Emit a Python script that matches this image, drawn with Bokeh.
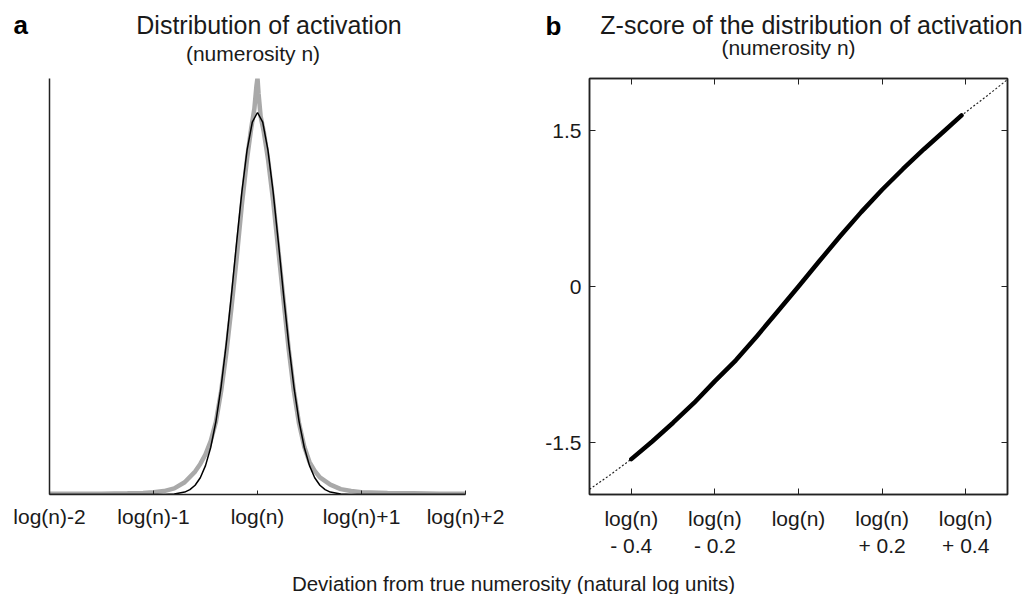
from bokeh.plotting import figure
from bokeh.models import Range1d, FixedTicker, LinearAxis, Label
from bokeh.layouts import column, row
from bokeh.embed import file_html
from bokeh.resources import INLINE

FONT = "Liberation Sans"

# ---------------- panel a : distribution of activation ----------------
dev_ticks = [-2, -1, 0, 1, 2]
dev_tick_labels = ["log(n)-2", "log(n)-1", "log(n)", "log(n)+1", "log(n)+2"]

# measured activation (grey), deviation in natural log units, height rel. to fit peak
act_x = [-2.0, -1.75, -1.5, -1.25, -1.1, -1.0, -0.9, -0.8, -0.7, -0.6, -0.55, -0.5,
         -0.45, -0.4, -0.35, -0.3, -0.25, -0.2, -0.15, -0.1, -0.06, -0.03, -0.01,
         0.0, 0.01, 0.03, 0.06, 0.1, 0.15, 0.2, 0.25, 0.3, 0.35, 0.4, 0.45, 0.5,
         0.55, 0.6, 0.7, 0.8, 0.9, 1.0, 1.25, 1.5, 1.75, 2.0]
act_y = [0.002, 0.002, 0.002, 0.003, 0.004, 0.006, 0.009, 0.016, 0.032, 0.06, 0.08, 0.105,
         0.14, 0.19, 0.27, 0.37, 0.49, 0.62, 0.76, 0.88, 0.96, 1.01, 1.07,
         1.09, 1.05, 0.99, 0.95, 0.88, 0.77, 0.64, 0.51, 0.38, 0.27, 0.185, 0.125, 0.085,
         0.062, 0.045, 0.026, 0.014, 0.009, 0.006, 0.004, 0.003, 0.002, 0.002]

# gaussian fit (black)
fit_x = [-2.0, -1.0, -0.9, -0.8, -0.7, -0.65, -0.6, -0.55, -0.5, -0.45, -0.4, -0.35,
         -0.3, -0.25, -0.2, -0.15, -0.1, -0.05, 0.0, 0.05, 0.1, 0.15, 0.2, 0.25, 0.3,
         0.35, 0.4, 0.45, 0.5, 0.55, 0.6, 0.65, 0.7, 0.8, 0.9, 1.0, 2.0]
fit_y = [0.0, 0.0, 0.0002, 0.0013, 0.0063, 0.0127, 0.0243, 0.0439, 0.0756, 0.123, 0.191, 0.282,
         0.395, 0.524, 0.662, 0.793, 0.902, 0.975, 1.0, 0.975, 0.902, 0.793, 0.662, 0.524, 0.395,
         0.282, 0.191, 0.123, 0.0756, 0.0439, 0.0243, 0.0127, 0.0063, 0.0013, 0.0002, 0.0, 0.0]

# ---------------- panel b : z-score ----------------
z_ticks_x = [-0.4, -0.2, 0, 0.2, 0.4]
z_tick_x_labels = ["log(n)\n- 0.4", "log(n)\n- 0.2", "log(n)\n ", "log(n)\n+ 0.2", "log(n)\n+ 0.4"]
z_ticks_y = [-1.5, 0, 1.5]
z_tick_y_labels = ["-1.5", "0", "1.5"]

z_x = [-0.5, -0.45, -0.4, -0.35, -0.3, -0.25, -0.2, -0.15, -0.1, -0.05, 0.0,
       0.05, 0.1, 0.15, 0.2, 0.25, 0.3, 0.35, 0.39, 0.45, 0.5]
z_val = [-1.95, -1.81, -1.66, -1.49, -1.31, -1.12, -0.91, -0.71, -0.48, -0.24, 0.0,
         0.245, 0.485, 0.715, 0.93, 1.13, 1.32, 1.50, 1.645, 1.83, 1.99]
z_data_lo, z_data_hi = -0.4, 0.39   # extent of the measured (thick) part

TXT = "#1a1a1a"
AX = "#222222"

# ---------- header (panel letters and titles) ----------
t = figure(width=1026, height=70, x_range=Range1d(0, 1026), y_range=Range1d(0, 70),
           title=None, output_backend="svg", toolbar_location=None, min_border=0)
t.axis.visible = False
t.grid.visible = False
t.outline_line_color = None
t.border_fill_color = "white"
for x, y, txt, size, bold in [
        (13, 46, "a", "26px", True),
        (268.5, 46, "Distribution of activation", "25px", False),
        (252.5, 16.9, "(numerosity n)", "21px", False),
        (545, 44.4, "b", "26px", True),
        (811, 46, "Z-score of the distribution of activation", "25px", False),
        (788, 22.9, "(numerosity n)", "21px", False)]:
    t.add_layout(Label(x=x, y=y, text=txt, text_font=FONT, text_font_size=size,
                       text_font_style="bold" if bold else "normal",
                       text_color="black" if bold else TXT,
                       text_align="left" if bold else "center",
                       text_baseline="alphabetic"))

# ---------- figure a ----------
p1 = figure(width=528, height=496, x_range=Range1d(-2, 2), y_range=Range1d(0, 1.089),
            title=None, output_backend="svg", toolbar_location=None,
            min_border_left=49, min_border_right=63, min_border_top=8, min_border_bottom=72)
p1.outline_line_color = None
p1.grid.visible = False
p1.border_fill_color = "white"

xa = p1.xaxis[0]
xa.ticker = FixedTicker(ticks=dev_ticks)
xa.major_label_overrides = dict(zip(dev_ticks, dev_tick_labels))
xa.major_tick_in = 4
xa.major_tick_out = 0
xa.minor_tick_line_color = None
xa.axis_line_width = 1.5
xa.axis_line_color = AX
xa.major_tick_line_color = AX
xa.major_label_text_font = FONT
xa.major_label_text_font_size = "21px"
xa.major_label_text_color = TXT
xa.major_label_standoff = 10

ya = p1.yaxis[0]
ya.ticker = FixedTicker(ticks=[])
ya.major_tick_line_color = None
ya.minor_tick_line_color = None
ya.axis_line_width = 1.5
ya.axis_line_color = AX

p1.line(act_x, act_y, line_color="#a9a9a9", line_width=4.5)
p1.line(fit_x, fit_y, line_color="black", line_width=1.5)

# ---------- figure b ----------
p2 = figure(width=498, height=496, x_range=Range1d(-0.5, 0.5), y_range=Range1d(-2, 2),
            title=None, output_backend="svg", toolbar_location=None,
            min_border_left=61, min_border_right=19, min_border_top=8, min_border_bottom=72)
p2.grid.visible = False
p2.outline_line_color = AX
p2.outline_line_width = 1.5
p2.border_fill_color = "white"

bx = p2.xaxis[0]
bx.ticker = FixedTicker(ticks=z_ticks_x)
bx.major_label_overrides = dict(zip(z_ticks_x, z_tick_x_labels))
by = p2.yaxis[0]
by.ticker = FixedTicker(ticks=z_ticks_y)
by.major_label_overrides = dict(zip(z_ticks_y, z_tick_y_labels))
for ax in (bx, by):
    ax.major_tick_in = 6
    ax.major_tick_out = 0
    ax.minor_tick_line_color = None
    ax.axis_line_width = 1.5
    ax.axis_line_color = AX
    ax.major_tick_line_color = AX
    ax.major_label_text_font = FONT
    ax.major_label_text_font_size = "21px"
    ax.major_label_text_color = TXT
bx.major_label_standoff = 12
by.major_label_standoff = 8

for tk, side in ((z_ticks_x, "above"), (z_ticks_y, "right")):
    mirror = LinearAxis(ticker=FixedTicker(ticks=tk), major_label_text_color=None,
                        major_label_text_font_size="1px",
                        major_tick_in=6, major_tick_out=0, minor_tick_line_color=None,
                        major_label_standoff=0, axis_line_width=1.5, axis_line_color=AX,
                        major_tick_line_color=AX)
    p2.add_layout(mirror, side)

p2.line(z_x, z_val, line_color="#222222", line_width=1.2, line_dash="2 2")
solid_x = [x for x in z_x if z_data_lo <= x <= z_data_hi]
solid_y = [z for x, z in zip(z_x, z_val) if z_data_lo <= x <= z_data_hi]
p2.line(solid_x, solid_y, line_color="black", line_width=4.5, line_cap="round",
        line_join="round")

# ---------- shared x label ----------
p3 = figure(width=1026, height=28, x_range=Range1d(0, 1026), y_range=Range1d(0, 28),
            title=None, output_backend="svg", toolbar_location=None, min_border=0)
p3.axis.visible = False
p3.grid.visible = False
p3.outline_line_color = None
p3.border_fill_color = "white"
p3.add_layout(Label(x=513, y=10.8, text="Deviation from true numerosity (natural log units)",
                    text_font=FONT, text_font_size="20.5px", text_color=TXT,
                    text_align="center", text_baseline="alphabetic"))

layout = column(t, row(p1, p2), p3)
open("out.html", "w").write(file_html(layout, INLINE))
